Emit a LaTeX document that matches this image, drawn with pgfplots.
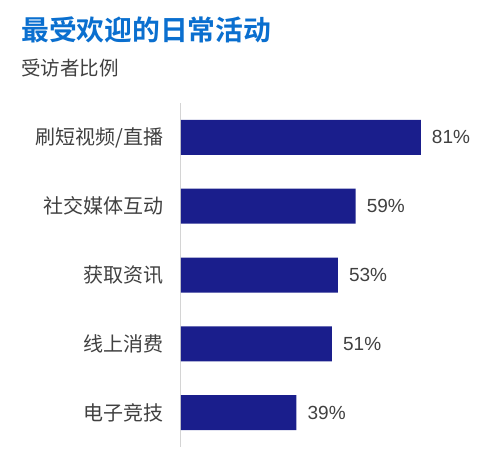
\documentclass[border=0pt]{standalone}
\usepackage{pgfplots}
\pgfplotsset{compat=1.18}
\usepackage{fontspec}
\setmainfont{Liberation Sans}
\newfontfamily\cjk{Noto Sans CJK SC}[BoldFont={Noto Sans CJK SC Bold}]
\definecolor{barblue}{HTML}{1A1E8C}
\definecolor{titleblue}{HTML}{0A6FCF}
\definecolor{labelgray}{HTML}{404040}
\definecolor{axisgray}{HTML}{D4D4D4}
\begin{document}
\begin{tikzpicture}
  \useasboundingbox (0,0) rectangle (482pt,459pt);
  \node[anchor=west, inner sep=0pt, text=titleblue] at (21pt,429pt)
    {\cjk\bfseries\fontsize{27.8}{32}\selectfont 最受欢迎的日常活动};
  \node[anchor=west, inner sep=0pt, text=labelgray] at (21pt,391pt)
    {\cjk\fontsize{19.5}{22}\selectfont 受访者比例};
  \begin{axis}[
      at={(181pt,12pt)}, anchor=south west,
      scale only axis,
      width=296pt, height=344pt,
      xbar, bar width=35pt,
      xmin=0, xmax=100,
      ymin=-0.5, ymax=4.5,
      y dir=reverse,
      hide x axis,
      axis y line*=left,
      y axis line style={axisgray, line width=1pt},
      ytick={0,1,2,3,4},
      yticklabels={刷短视频/直播, 社交媒体互动, 获取资讯, 线上消费, 电子竞技},
      major tick length=0pt,
      y tick label style={font=\cjk\fontsize{20}{22}\selectfont, text=labelgray,
        anchor=east, inner sep=0pt, xshift=-17pt},
      /pgf/number format/assume math mode=true,
      nodes near coords={\pgfmathprintnumber{\pgfplotspointmeta}\%},
      point meta=x,
      nodes near coords style={font=\fontsize{19}{22}\selectfont, text=labelgray,
        anchor=west, inner sep=0pt, xshift=11pt},
    ]
    \addplot[fill=barblue, draw=none] coordinates {
      (81,0) (59,1) (53,2) (51,3) (39,4)
    };
  \end{axis}
\end{tikzpicture}
\end{document}
